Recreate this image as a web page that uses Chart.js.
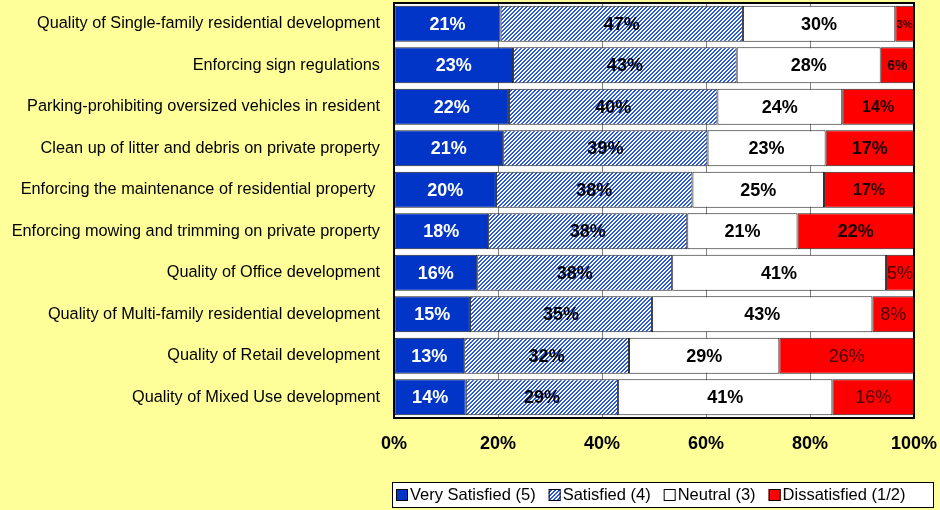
<!DOCTYPE html>
<html>
<head>
<meta charset="utf-8">
<script src="https://cdn.jsdelivr.net/npm/chart.js"></script>
<style>
  html, body { margin: 0; padding: 0; background: #FFFF99; }
  #wrap { width: 940px; height: 510px; position: relative; }
</style>
</head>
<body>
<div id="wrap"><canvas id="chart" width="940" height="510"></canvas></div>
<script>
// categories, top to bottom
const categories = [
    'Quality of Single-family residential development',
    'Enforcing sign regulations',
    'Parking-prohibiting oversized vehicles in resident',
    'Clean up of litter and debris on private property',
    'Enforcing the maintenance of residential property ',
    'Enforcing mowing and trimming on private property',
    'Quality of Office development',
    'Quality of Multi-family residential development',
    'Quality of Retail development',
    'Quality of Mixed Use development'
];

// segment widths (percent of the bar)
const verySatisfied = [20.5, 22.9, 22.1, 21.0, 19.6, 18.1, 16.0, 14.6, 13.5, 13.8];
const satisfied     = [46.6, 43.0, 40.1, 39.3, 37.8, 38.3, 37.5, 35.0, 31.7, 29.3];
const neutral       = [29.3, 27.7, 24.0, 22.7, 25.3, 21.2, 41.1, 42.4, 28.9, 41.2];
const dissatisfied  = [3.6, 6.4, 13.8, 17.0, 17.3, 22.4, 5.4, 8.0, 25.9, 15.7];

// printed labels
const verySatisfiedLabels = ['21%', '23%', '22%', '21%', '20%', '18%', '16%', '15%', '13%', '14%'];
const satisfiedLabels     = ['47%', '43%', '40%', '39%', '38%', '38%', '38%', '35%', '32%', '29%'];
const neutralLabels       = ['30%', '28%', '24%', '23%', '25%', '21%', '41%', '43%', '29%', '41%'];
const dissatisfiedLabels  = ['3%', '6%', '14%', '17%', '17%', '22%', '5%', '8%', '26%', '16%'];

const xTicks = [0, 20, 40, 60, 80, 100];

const FONT = "'Liberation Sans', Arial, sans-serif";

// blue diagonal hatch for "Satisfied", drawn pixel by pixel so it stays crisp
function makeHatch() {
    const c = document.createElement('canvas');
    c.width = 4;
    c.height = 4;
    const g = c.getContext('2d');
    g.fillStyle = '#ffffff';
    g.fillRect(0, 0, 4, 4);
    g.fillStyle = '#2a5ae0';
    for (let y = 0; y < 4; y++) {
        for (let x = 0; x < 4; x++) {
            if ((x + y) % 4 < 2) g.fillRect(x, y, 1, 1);
        }
    }
    return g.createPattern(c, 'repeat');
}
const hatch = makeHatch();

// label look per dataset
const labelStyles = [
    { texts: verySatisfiedLabels, color: '#ffffff', font: () => 'bold 18px ' + FONT },
    { texts: satisfiedLabels, color: '#000000', font: () => 'bold 18px ' + FONT },
    { texts: neutralLabels, color: '#000000', font: () => 'bold 18px ' + FONT },
    {
        texts: dissatisfiedLabels,
        color: (i) => (i < 6 ? '#1a0000' : '#4a0000'),
        font: (i) => ['bold 11px ', 'bold 14px ', 'bold 16px ', 'bold 18px ', 'bold 16px ',
                      'bold 18px ', '18px ', '18px ', '18px ', '18px '][i] + FONT
    }
];

// white plot area, drawn before the grid
const plotBackground = {
    id: 'plotBackground',
    beforeDraw(chart) {
        const { ctx, chartArea: a } = chart;
        ctx.save();
        ctx.fillStyle = '#ffffff';
        ctx.fillRect(a.left, a.top, a.right - a.left, a.bottom - a.top);
        ctx.restore();
    }
};

// values inside the segments + plot frame + boxed legend
const extras = {
    id: 'extras',
    afterDatasetsDraw(chart) {
        const ctx = chart.ctx;
        ctx.save();
        ctx.textAlign = 'center';
        ctx.textBaseline = 'middle';
        chart.data.datasets.forEach((ds, d) => {
            const st = labelStyles[d];
            chart.getDatasetMeta(d).data.forEach((bar, i) => {
                const p = bar.getProps(['x', 'y', 'base'], true);
                ctx.font = st.font(i);
                ctx.fillStyle = typeof st.color === 'function' ? st.color(i) : st.color;
                ctx.fillText(st.texts[i], (p.x + p.base) / 2, p.y + 1);
            });
        });

        const a = chart.chartArea;
        ctx.strokeStyle = '#000000';
        ctx.lineWidth = 2;
        ctx.strokeRect(a.left, a.top, a.right - a.left, a.bottom - a.top);
        ctx.restore();
    },
    afterDraw(chart) {
        const ctx = chart.ctx;
        ctx.save();
        const bx = 392, by = 482, bw = 541, bh = 25;
        ctx.fillStyle = '#ffffff';
        ctx.fillRect(bx, by, bw, bh);
        ctx.strokeStyle = '#000000';
        ctx.lineWidth = 1;
        ctx.strokeRect(bx + 0.5, by + 0.5, bw, bh);
        ctx.font = '16.5px ' + FONT;
        ctx.textBaseline = 'middle';
        ctx.textAlign = 'left';
        let x = bx + 4;
        const cy = by + bh / 2 + 0.5;
        chart.data.datasets.forEach((ds) => {
            ctx.fillStyle = ds.backgroundColor;
            ctx.fillRect(x, cy - 6, 12, 12);
            ctx.strokeStyle = '#000000';
            ctx.strokeRect(x + 0.5, cy - 5.5, 11, 11);
            ctx.fillStyle = '#000000';
            ctx.fillText(ds.label, x + 14, cy);
            x += 14 + ctx.measureText(ds.label).width + 13;
        });
        ctx.restore();
    }
};

const common = { borderColor: '#222222', borderWidth: 1, borderSkipped: false, barPercentage: 0.87, categoryPercentage: 1 };

new Chart(document.getElementById('chart').getContext('2d'), {
    type: 'bar',
    data: {
        labels: categories,
        datasets: [
            { label: 'Very Satisfied (5)', data: verySatisfied, backgroundColor: '#0035C8', ...common },
            { label: 'Satisfied (4)', data: satisfied, backgroundColor: hatch, ...common },
            { label: 'Neutral (3)', data: neutral, backgroundColor: '#ffffff', ...common },
            { label: 'Dissatisfied (1/2)', data: dissatisfied, backgroundColor: '#FF0000', ...common }
        ]
    },
    options: {
        indexAxis: 'y',
        responsive: false,
        animation: false,
        layout: { padding: { top: 3, right: 26, bottom: 0, left: 0 } },
        plugins: {
            legend: { display: false },
            tooltip: { enabled: false }
        },
        scales: {
            x: {
                stacked: true,
                min: 0,
                max: 100,
                afterBuildTicks: (scale) => { scale.ticks = xTicks.map(v => ({ value: v })); },
                afterFit: (scale) => {
                    scale.height = 92;
                    scale.paddingLeft = 0;
                    scale.paddingRight = 0;
                },
                border: { display: false },
                grid: { color: '#808080', lineWidth: 1, drawTicks: false },
                ticks: {
                    padding: 15,
                    color: '#000000',
                    font: { family: FONT, size: 18, weight: 'bold' },
                    callback: (v) => v + '%'
                }
            },
            y: {
                stacked: true,
                afterFit: (scale) => {
                    scale.width = 394;
                    scale.paddingTop = 0;
                    scale.paddingBottom = 0;
                },
                border: { display: false },
                grid: { display: false, drawTicks: false },
                ticks: {
                    padding: 14,
                    color: '#000000',
                    font: { family: FONT, size: 16.3 }
                }
            }
        }
    },
    plugins: [plotBackground, extras]
});
</script>
</body>
</html>
